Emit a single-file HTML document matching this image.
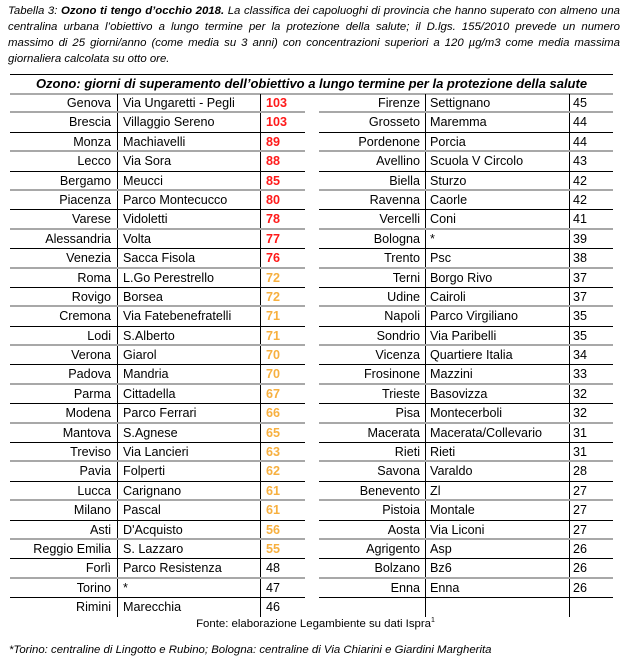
<!DOCTYPE html>
<html><head><meta charset="utf-8"><style>
body{margin:0;width:631px;height:668px;background:#fff;font-family:"Liberation Sans",sans-serif;color:#000;position:relative;overflow:hidden}
.cap{position:absolute;left:8px;top:3px;width:612px;font-size:11.4px;font-style:italic;line-height:16px;text-align:justify;text-align-last:left}
.title{position:absolute;left:10px;width:603px;top:74px;border-top:1px solid #000;height:18px;border-bottom:2px solid #aaa;text-align:center;font-weight:bold;font-style:italic;font-size:13px;line-height:18px}
.tb{position:absolute;top:94px}
.r{height:19.4px;position:relative;box-sizing:border-box;font-size:12.6px;line-height:19px}
.r.g{border-bottom:2px solid #a8a8a8}
.r.k{border-bottom:1px solid #000}
.c{position:absolute;top:0;text-align:right;white-space:nowrap;right:194px}
.p{position:absolute;top:0;white-space:nowrap}
.n{position:absolute;top:0}
.red{color:#ff1a1a;font-weight:bold}
.or{color:#f7b040;font-weight:bold}
.v{position:absolute;width:1px;background:#000}
.src{position:absolute;top:617px;left:0;width:631px;text-align:center;font-size:11.4px}
.fn{position:absolute;top:644px;left:9px;font-size:11.4px;font-style:italic}
#R .c{right:193px}
</style></head><body>
<div class="cap"><i>Tabella 3: <b>Ozono ti tengo d’occhio 2018.</b> La classifica dei capoluoghi di provincia che hanno superato con almeno una centralina urbana l’obiettivo a lungo termine per la protezione della salute; il D.lgs. 155/2010 prevede un numero massimo di 25 giorni/anno (come media su 3 anni) con concentrazioni superiori a 120 µg/m3 come media massima giornaliera calcolata su otto ore.</i></div>
<div class="title">Ozono: giorni di superamento dell’obiettivo a lungo termine per la protezione della salute</div>

<div class="v" style="left:117px;top:94px;height:523px"></div>
<div class="v" style="left:260px;top:94px;height:523px"></div>
<div class="v" style="left:425px;top:94px;height:523px"></div>
<div class="v" style="left:569px;top:94px;height:523px"></div>

<div class="tb" style="left:10px;width:295px" id="L">
<div class="r g"><span class="c">Genova</span><span class="p" style="left:113px">Via Ungaretti - Pegli</span><span class="n red" style="left:256px">103</span></div>
<div class="r k"><span class="c">Brescia</span><span class="p" style="left:113px">Villaggio Sereno</span><span class="n red" style="left:256px">103</span></div>
<div class="r g"><span class="c">Monza</span><span class="p" style="left:113px">Machiavelli</span><span class="n red" style="left:256px">89</span></div>
<div class="r k"><span class="c">Lecco</span><span class="p" style="left:113px">Via Sora</span><span class="n red" style="left:256px">88</span></div>
<div class="r g"><span class="c">Bergamo</span><span class="p" style="left:113px">Meucci</span><span class="n red" style="left:256px">85</span></div>
<div class="r k"><span class="c">Piacenza</span><span class="p" style="left:113px">Parco Montecucco</span><span class="n red" style="left:256px">80</span></div>
<div class="r g"><span class="c">Varese</span><span class="p" style="left:113px">Vidoletti</span><span class="n red" style="left:256px">78</span></div>
<div class="r k"><span class="c">Alessandria</span><span class="p" style="left:113px">Volta</span><span class="n red" style="left:256px">77</span></div>
<div class="r g"><span class="c">Venezia</span><span class="p" style="left:113px">Sacca Fisola</span><span class="n red" style="left:256px">76</span></div>
<div class="r k"><span class="c">Roma</span><span class="p" style="left:113px">L.Go Perestrello</span><span class="n or" style="left:256px">72</span></div>
<div class="r g"><span class="c">Rovigo</span><span class="p" style="left:113px">Borsea</span><span class="n or" style="left:256px">72</span></div>
<div class="r k"><span class="c">Cremona</span><span class="p" style="left:113px">Via Fatebenefratelli</span><span class="n or" style="left:256px">71</span></div>
<div class="r g"><span class="c">Lodi</span><span class="p" style="left:113px">S.Alberto</span><span class="n or" style="left:256px">71</span></div>
<div class="r k"><span class="c">Verona</span><span class="p" style="left:113px">Giarol</span><span class="n or" style="left:256px">70</span></div>
<div class="r g"><span class="c">Padova</span><span class="p" style="left:113px">Mandria</span><span class="n or" style="left:256px">70</span></div>
<div class="r k"><span class="c">Parma</span><span class="p" style="left:113px">Cittadella</span><span class="n or" style="left:256px">67</span></div>
<div class="r g"><span class="c">Modena</span><span class="p" style="left:113px">Parco Ferrari</span><span class="n or" style="left:256px">66</span></div>
<div class="r k"><span class="c">Mantova</span><span class="p" style="left:113px">S.Agnese</span><span class="n or" style="left:256px">65</span></div>
<div class="r g"><span class="c">Treviso</span><span class="p" style="left:113px">Via Lancieri</span><span class="n or" style="left:256px">63</span></div>
<div class="r k"><span class="c">Pavia</span><span class="p" style="left:113px">Folperti</span><span class="n or" style="left:256px">62</span></div>
<div class="r g"><span class="c">Lucca</span><span class="p" style="left:113px">Carignano</span><span class="n or" style="left:256px">61</span></div>
<div class="r k"><span class="c">Milano</span><span class="p" style="left:113px">Pascal</span><span class="n or" style="left:256px">61</span></div>
<div class="r g"><span class="c">Asti</span><span class="p" style="left:113px">D'Acquisto</span><span class="n or" style="left:256px">56</span></div>
<div class="r k"><span class="c">Reggio Emilia</span><span class="p" style="left:113px">S. Lazzaro</span><span class="n or" style="left:256px">55</span></div>
<div class="r g"><span class="c">Forlì</span><span class="p" style="left:113px">Parco Resistenza</span><span class="n" style="left:256px">48</span></div>
<div class="r k"><span class="c">Torino</span><span class="p" style="left:113px">*</span><span class="n" style="left:256px">47</span></div>
<div class="r"><span class="c">Rimini</span><span class="p" style="left:113px">Marecchia</span><span class="n" style="left:256px">46</span></div>
</div>

<div class="tb" style="left:319px;width:294px" id="R">
<div class="r g"><span class="c">Firenze</span><span class="p" style="left:111px">Settignano</span><span class="n" style="left:254px">45</span></div>
<div class="r k"><span class="c">Grosseto</span><span class="p" style="left:111px">Maremma</span><span class="n" style="left:254px">44</span></div>
<div class="r g"><span class="c">Pordenone</span><span class="p" style="left:111px">Porcia</span><span class="n" style="left:254px">44</span></div>
<div class="r k"><span class="c">Avellino</span><span class="p" style="left:111px">Scuola V Circolo</span><span class="n" style="left:254px">43</span></div>
<div class="r g"><span class="c">Biella</span><span class="p" style="left:111px">Sturzo</span><span class="n" style="left:254px">42</span></div>
<div class="r k"><span class="c">Ravenna</span><span class="p" style="left:111px">Caorle</span><span class="n" style="left:254px">42</span></div>
<div class="r g"><span class="c">Vercelli</span><span class="p" style="left:111px">Coni</span><span class="n" style="left:254px">41</span></div>
<div class="r k"><span class="c">Bologna</span><span class="p" style="left:111px">*</span><span class="n" style="left:254px">39</span></div>
<div class="r g"><span class="c">Trento</span><span class="p" style="left:111px">Psc</span><span class="n" style="left:254px">38</span></div>
<div class="r k"><span class="c">Terni</span><span class="p" style="left:111px">Borgo Rivo</span><span class="n" style="left:254px">37</span></div>
<div class="r g"><span class="c">Udine</span><span class="p" style="left:111px">Cairoli</span><span class="n" style="left:254px">37</span></div>
<div class="r k"><span class="c">Napoli</span><span class="p" style="left:111px">Parco Virgiliano</span><span class="n" style="left:254px">35</span></div>
<div class="r g"><span class="c">Sondrio</span><span class="p" style="left:111px">Via Paribelli</span><span class="n" style="left:254px">35</span></div>
<div class="r k"><span class="c">Vicenza</span><span class="p" style="left:111px">Quartiere Italia</span><span class="n" style="left:254px">34</span></div>
<div class="r g"><span class="c">Frosinone</span><span class="p" style="left:111px">Mazzini</span><span class="n" style="left:254px">33</span></div>
<div class="r k"><span class="c">Trieste</span><span class="p" style="left:111px">Basovizza</span><span class="n" style="left:254px">32</span></div>
<div class="r g"><span class="c">Pisa</span><span class="p" style="left:111px">Montecerboli</span><span class="n" style="left:254px">32</span></div>
<div class="r k"><span class="c">Macerata</span><span class="p" style="left:111px">Macerata/Collevario</span><span class="n" style="left:254px">31</span></div>
<div class="r g"><span class="c">Rieti</span><span class="p" style="left:111px">Rieti</span><span class="n" style="left:254px">31</span></div>
<div class="r k"><span class="c">Savona</span><span class="p" style="left:111px">Varaldo</span><span class="n" style="left:254px">28</span></div>
<div class="r g"><span class="c">Benevento</span><span class="p" style="left:111px">Zl</span><span class="n" style="left:254px">27</span></div>
<div class="r k"><span class="c">Pistoia</span><span class="p" style="left:111px">Montale</span><span class="n" style="left:254px">27</span></div>
<div class="r g"><span class="c">Aosta</span><span class="p" style="left:111px">Via Liconi</span><span class="n" style="left:254px">27</span></div>
<div class="r k"><span class="c">Agrigento</span><span class="p" style="left:111px">Asp</span><span class="n" style="left:254px">26</span></div>
<div class="r g"><span class="c">Bolzano</span><span class="p" style="left:111px">Bz6</span><span class="n" style="left:254px">26</span></div>
<div class="r k"><span class="c">Enna</span><span class="p" style="left:111px">Enna</span><span class="n" style="left:254px">26</span></div>
</div>

<div class="src">Fonte: elaborazione Legambiente su dati Ispra<sup style="font-size:7px">1</sup></div>
<div class="fn">*Torino: centraline di Lingotto e Rubino; Bologna: centraline di Via Chiarini e Giardini Margherita</div>
</body></html>
